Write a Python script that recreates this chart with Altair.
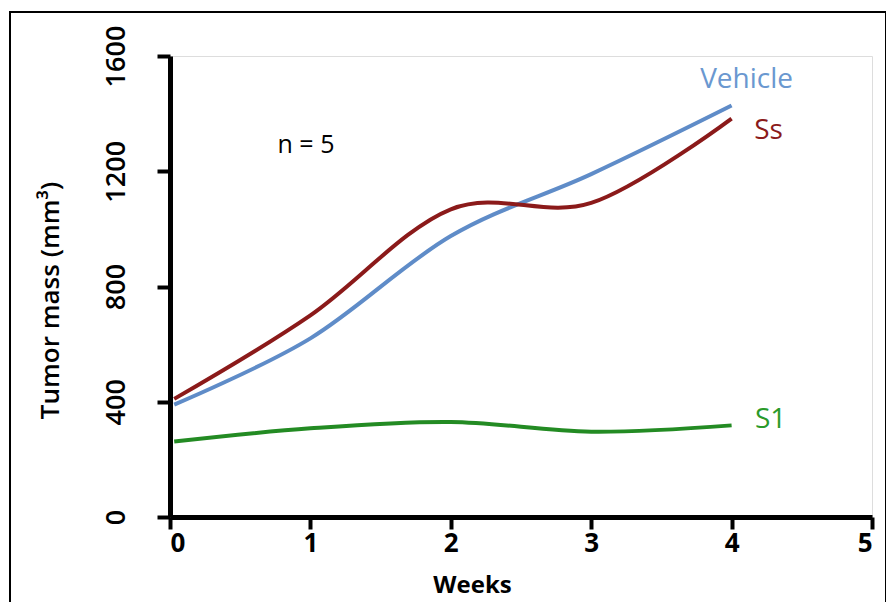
import altair as alt
import pandas as pd

weeks = [0.03, 1, 2, 3, 4]
vehicle = [390, 620, 975, 1190, 1428]
ss = [410, 700, 1068, 1090, 1383]
s1 = [262, 308, 330, 296, 318]

series_names = ["Vehicle", "Ss", "S1"]
series_colors = ["#5f8cc8", "#8b1a1a", "#238b23"]
label_colors = ["#6a98d0", "#8b1a1a", "#2a9a2a"]

x_ticks = [0, 1, 2, 3, 4, 5]
y_ticks = [0, 400, 800, 1200, 1600]

rows = []
for name, vals in zip(series_names, [vehicle, ss, s1]):
    for w, v in zip(weeks, vals):
        rows.append({"series": name, "week": w, "mass": v})
df = pd.DataFrame(rows)
last = df[df["week"] == weeks[-1]]

FONT = "Open Sans"
W, H = 702, 461

x_enc = alt.X("week:Q", scale=alt.Scale(domain=[0, 5], nice=False),
              axis=alt.Axis(values=x_ticks, title="Weeks", format="d",
                            labelFontSize=26, labelFontWeight="bold", labelFont=FONT,
                            labelColor="black", labelPadding=1,
                            tickSize=12, tickWidth=4, tickColor="black",
                            domainColor="black", domainWidth=5,
                            titleFont=FONT, titleFontSize=24, titleFontWeight="bold",
                            titleColor="black", titleX=302, titleY=68,
                            titleBaseline="middle", titleAlign="center",
                            grid=False))
y_enc = alt.Y("mass:Q", scale=alt.Scale(domain=[0, 1600], nice=False),
              axis=alt.Axis(values=y_ticks, title="Tumor mass (mm³)", format="d",
                            labelFontSize=27, labelFont=FONT, labelColor="black",
                            labelFontWeight=600,
                            labelAngle=270, labelAlign="center", labelBaseline="bottom",
                            labelPadding=27, tickSize=13, tickWidth=4, tickColor="black",
                            domainColor="black", domainWidth=5,
                            titleFont=FONT, titleFontSize=26, titleFontWeight=600,
                            titleColor="black", titleAngle=270, titleX=-120, titleY=244,
                            titleBaseline="middle", titleAlign="center",
                            grid=False))

color_scale = alt.Scale(domain=series_names, range=series_colors)

lines = alt.Chart(df).mark_line(interpolate="cardinal", strokeWidth=4).encode(
    x=x_enc, y=y_enc,
    color=alt.Color("series:N", scale=color_scale, legend=None),
    detail="series:N",
)

offsets = {"Vehicle": (15, -26), "Ss": (37, 12), "S1": (39, -5)}
label_layers = []
for name, lc in zip(series_names, label_colors):
    dx, dy = offsets[name]
    label_layers.append(
        alt.Chart(last[last["series"] == name]).mark_text(
            font=FONT, fontSize=28, color=lc, dx=dx, dy=dy,
            align="center", baseline="middle"
        ).encode(x="week:Q", y="mass:Q", text="series:N")
    )

n_text = alt.Chart(pd.DataFrame({"t": ["n = 5"]})).mark_text(
    font=FONT, fontSize=25, color="black", align="center", baseline="middle"
).encode(x=alt.value(136), y=alt.value(89), text="t:N")

frame = alt.Chart(pd.DataFrame({"a": [0]})).mark_rect(
    fill=None, stroke="black", strokeWidth=2, clip=False
).encode(x=alt.value(-160), x2=alt.value(716), y=alt.value(-44), y2=alt.value(560))

chart = alt.layer(frame, lines, *label_layers, n_text).properties(
    width=W, height=H,
    autosize=alt.AutoSizeParams(type="none"),
    padding={"left": 162, "top": 48, "right": 14, "bottom": 85},
).configure_view(stroke="black", strokeWidth=5).configure(background="white")

chart.save("out.html", embed_options={"renderer": "svg", "actions": False})
